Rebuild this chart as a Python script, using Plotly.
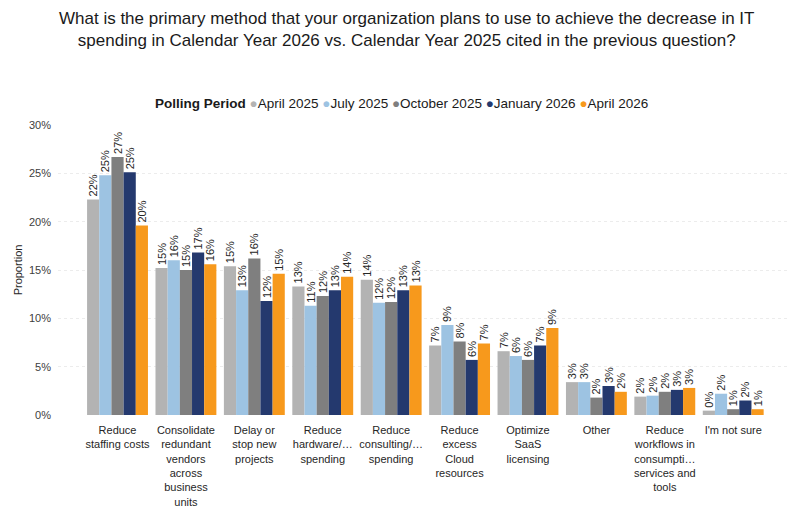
import plotly.graph_objects as go

categories = [
    "Reduce<br>staffing costs",
    "Consolidate<br>redundant<br>vendors<br>across<br>business<br>units",
    "Delay or<br>stop new<br>projects",
    "Reduce<br>hardware/…<br>spending",
    "Reduce<br>consulting/…<br>spending",
    "Reduce<br>excess<br>Cloud<br>resources",
    "Optimize<br>SaaS<br>licensing",
    "Other",
    "Reduce<br>workflows in<br>consumpti…<br>services and<br>tools",
    "I'm not sure",
]

series_names = ["April 2025", "July 2025", "October 2025", "January 2026", "April 2026"]

april_2025 = [0.223, 0.152, 0.154, 0.133, 0.140, 0.072, 0.066, 0.034, 0.019, 0.0045]
july_2025 = [0.248, 0.160, 0.129, 0.113, 0.116, 0.093, 0.061, 0.034, 0.020, 0.022]
october_2025 = [0.267, 0.150, 0.162, 0.123, 0.117, 0.076, 0.057, 0.018, 0.024, 0.006]
january_2026 = [0.251, 0.168, 0.118, 0.129, 0.129, 0.057, 0.072, 0.030, 0.026, 0.015]
april_2026 = [0.196, 0.156, 0.146, 0.143, 0.134, 0.074, 0.090, 0.024, 0.028, 0.006]

series_values = [april_2025, july_2025, october_2025, january_2026, april_2026]
colors = ["#b3b3b3", "#9dc3e2", "#7f7f7f", "#24396e", "#f7991c"]

y_tick_vals = [0, 0.05, 0.10, 0.15, 0.20, 0.25, 0.30]

title_text = ("What is the primary method that your organization plans to use to achieve the decrease in IT<br>"
              "spending in Calendar Year 2026 vs. Calendar Year 2025 cited in the previous question?")

FONT = "Liberation Sans, Arial, sans-serif"

W, H = 806, 512
ML, MR, MT, MB = 58, 16, 125, 97
PW, PH = W - ML - MR, H - MT - MB


def px_to_paper_x(px):
    return (px - ML) / PW


def px_to_paper_y(py):
    return (H - MB - py) / PH


fig = go.Figure()
for name, vals, col in zip(series_names, series_values, colors):
    fig.add_trace(go.Bar(
        x=list(range(len(categories))), y=vals, name=name,
        marker=dict(color=col, line=dict(width=0)),
        texttemplate="%{y:.0%}", textposition="outside", textangle=-90,
        textfont=dict(size=11, color="#262626", family=FONT),
        constraintext="none", cliponaxis=False, showlegend=False,
    ))

legend_parts = ["<b>Polling Period</b>"]
for name, col in zip(series_names, colors):
    legend_parts.append(f"<span style='color:{col}'>●</span>{name}")
legend_text = " ".join(legend_parts)

fig.update_layout(
    width=W, height=H,
    margin=dict(l=ML, r=MR, t=MT, b=MB, autoexpand=False),
    paper_bgcolor="white", plot_bgcolor="white",
    font=dict(family=FONT, color="#262626"),
    barmode="group", bargap=0.11, bargroupgap=0,
    annotations=[
        dict(text=title_text, x=px_to_paper_x(406), y=px_to_paper_y(7),
             xref="paper", yref="paper", showarrow=False, align="center",
             xanchor="center", yanchor="top",
             font=dict(size=17, color="#1a1a1a", family=FONT)),
        dict(text=legend_text, x=px_to_paper_x(401), y=px_to_paper_y(104),
             xref="paper", yref="paper", showarrow=False,
             xanchor="center", yanchor="middle",
             font=dict(size=13.5, color="#1a1a1a", family=FONT)),
    ],
)

fig.update_xaxes(
    tickmode="array", tickvals=list(range(len(categories))), ticktext=categories,
    range=[-0.87, 9.83], showgrid=False, zeroline=False, showline=False,
    ticks="", ticklabelstandoff=7, automargin=False,
    tickfont=dict(size=11, color="#262626", family=FONT), tickangle=0,
)
fig.update_yaxes(
    range=[0, 0.30], tickvals=y_tick_vals, tickformat=".0%",
    showgrid=True, gridcolor="#ececec", griddash="dot", gridwidth=1,
    zeroline=False, showline=False, ticks="", ticklabelstandoff=6, automargin=False,
    tickfont=dict(size=11, color="#404040", family=FONT),
    title=dict(text="Proportion", font=dict(size=11, color="#262626", family=FONT), standoff=4),
)

fig.write_html("out.html")
